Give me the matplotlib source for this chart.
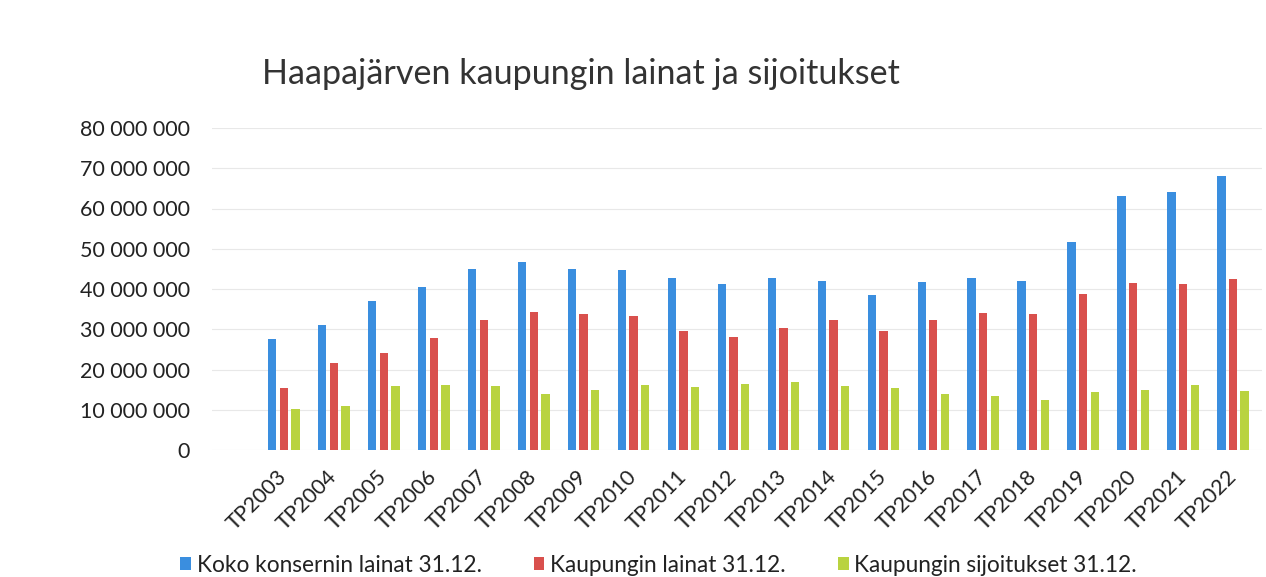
import matplotlib
matplotlib.use("Agg")
import matplotlib.pyplot as plt
import matplotlib.transforms as mtransforms
import numpy as np
from matplotlib.ticker import FuncFormatter
from matplotlib.patches import Patch

years = ["TP2003", "TP2004", "TP2005", "TP2006", "TP2007", "TP2008", "TP2009",
         "TP2010", "TP2011", "TP2012", "TP2013", "TP2014", "TP2015", "TP2016",
         "TP2017", "TP2018", "TP2019", "TP2020", "TP2021", "TP2022"]

konserni_lainat = [27.6, 31.1, 37.0, 40.4, 44.9, 46.6, 44.9, 44.6, 42.8, 41.3,
                   42.8, 41.9, 38.5, 41.8, 42.7, 41.9, 51.6, 63.0, 64.0, 68.0]
kaupunki_lainat = [15.3, 21.6, 24.0, 27.9, 32.2, 34.2, 33.7, 33.4, 29.5, 28.1,
                   30.3, 32.3, 29.6, 32.3, 34.1, 33.8, 38.7, 41.5, 41.2, 42.6]
kaupunki_sijoitukset = [10.2, 11.0, 15.8, 16.2, 15.8, 14.0, 14.9, 16.2, 15.7, 16.3,
                        16.8, 15.8, 15.3, 13.8, 13.3, 12.3, 14.3, 14.9, 16.2, 14.7]

series_names = ["Koko konsernin lainat 31.12.", "Kaupungin lainat 31.12.",
                "Kaupungin sijoitukset 31.12."]
colors = ["#3A8EDF", "#D9504D", "#B9D340"]

plt.rcParams['font.family'] = ['Lato', 'DejaVu Sans']


def fmt_space(v, pos):
    return "{:,.0f}".format(v).replace(",", " ")


def main():
    fig = plt.figure(figsize=(12.66, 5.77), dpi=100)
    ax = fig.add_axes([212 / 1266, 127 / 577, (1262 - 212) / 1266, (450 - 128) / 577])

    x = np.arange(len(years))
    w = 0.167
    off = 0.233
    data = [konserni_lainat, kaupunki_lainat, kaupunki_sijoitukset]
    for i, (vals, col) in enumerate(zip(data, colors)):
        ax.bar(x + (i - 1) * off, np.array(vals) * 1e6, width=w, color=col, zorder=3)

    ax.set_ylim(0, 80e6)
    ax.set_xlim(-1.44, 19.58)
    ax.set_yticks(np.arange(0, 80e6 + 1, 10e6))
    ax.yaxis.set_major_formatter(FuncFormatter(fmt_space))
    ax.grid(axis='y', color='#e8e8e8', linewidth=0.8, zorder=0)
    for s in ax.spines.values():
        s.set_visible(False)
    ax.tick_params(axis='both', length=0, labelsize=15.5, colors='#222222')
    ax.tick_params(axis='y', pad=16)

    ax.set_xticks(x)
    ax.set_xticklabels(years, rotation=45, ha='right', va='center',
                       rotation_mode='anchor', fontsize=15.5)
    shift = mtransforms.ScaledTranslation(10 / 100, -6 / 100, fig.dpi_scale_trans)
    for lbl in ax.get_xticklabels():
        lbl.set_transform(lbl.get_transform() + shift)
    ax.tick_params(axis='x', pad=17)

    fig.text(262 / 1266, 1 - 74 / 577, "Haapajärven kaupungin lainat ja sijoitukset",
             fontsize=24.6, color='#333333', va='center', ha='left')

    handles = [Patch(facecolor=c, edgecolor='none') for c in colors]
    fig.legend(handles, series_names, loc='center left', ncol=3, frameon=False,
               bbox_to_anchor=(180 / 1266, 1 - 565 / 577), fontsize=16.3,
               borderaxespad=0, borderpad=0,
               handlelength=0.48, handleheight=0.48, handletextpad=0.25,
               columnspacing=2.3, labelcolor='#222222')

    fig.savefig("out.png", dpi=100, facecolor='white')


if __name__ == "__main__":
    main()
